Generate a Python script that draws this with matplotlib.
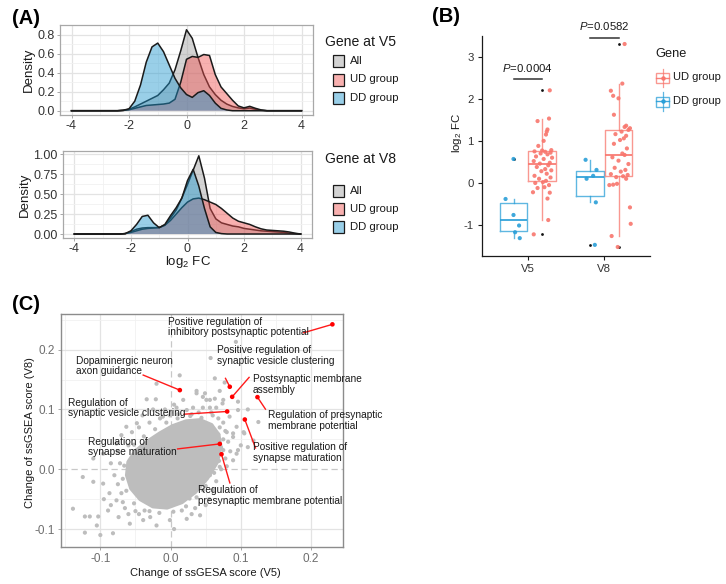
import numpy as np
import matplotlib
matplotlib.use('Agg')
import matplotlib.pyplot as plt
from matplotlib.patches import Rectangle, Polygon
from matplotlib.lines import Line2D

plt.rcParams['font.family'] = ['Liberation Sans', 'DejaVu Sans']
plt.rcParams['mathtext.fontset'] = 'custom'
plt.rcParams['mathtext.rm'] = 'Liberation Sans'
plt.rcParams['mathtext.it'] = 'Liberation Sans:italic'

# ---------------- data: panel A (densities) ----------------
grid_x = [-4.0, -2.6, -2.4, -2.2, -2.0, -1.8, -1.6, -1.4, -1.2, -1.0, -0.8, -0.6, -0.4, -0.2,
          0.0, 0.2, 0.4, 0.6, 0.8, 1.0, 1.2, 1.4, 1.6, 1.8, 2.0, 2.2, 2.4, 2.6, 2.8, 3.0,
          3.2, 3.4, 3.6, 3.8, 4.0]
v5_all = [0, 0, 0, 0.003, 0.015, 0.04, 0.07, 0.10, 0.13, 0.16, 0.22, 0.29, 0.43, 0.63,
          0.85, 0.76, 0.56, 0.38, 0.25, 0.17, 0.11, 0.07, 0.045, 0.03, 0.02, 0.028, 0.015, 0.005, 0,
          0, 0, 0, 0, 0, 0]
v5_ud = [0, 0, 0, 0.003, 0.01, 0.025, 0.04, 0.055, 0.06, 0.065, 0.07, 0.08, 0.12, 0.30,
         0.54, 0.57, 0.56, 0.59, 0.58, 0.38, 0.25, 0.18, 0.11, 0.05, 0.03, 0.046, 0.025, 0.008, 0,
         0, 0, 0, 0, 0, 0]
v5_dd = [0, 0, 0, 0.005, 0.02, 0.10, 0.27, 0.51, 0.67, 0.71, 0.62, 0.48, 0.34, 0.24,
         0.17, 0.14, 0.19, 0.21, 0.16, 0.08, 0.025, 0.008, 0, 0, 0, 0, 0, 0, 0,
         0, 0, 0, 0, 0, 0]
v8_all = [0, 0, 0, 0.005, 0.03, 0.06, 0.075, 0.08, 0.08, 0.08, 0.11, 0.20, 0.30, 0.45,
          0.62, 0.80, 0.98, 0.70, 0.32, 0.19, 0.14, 0.12, 0.10, 0.09, 0.07, 0.06, 0.05, 0.04, 0.035,
          0.03, 0.025, 0.02, 0.01, 0.005, 0]
v8_ud = [0, 0, 0, 0.005, 0.02, 0.04, 0.06, 0.07, 0.075, 0.08, 0.11, 0.17, 0.25, 0.33,
         0.40, 0.44, 0.45, 0.43, 0.40, 0.37, 0.32, 0.26, 0.20, 0.16, 0.14, 0.12, 0.09, 0.065, 0.05,
         0.045, 0.04, 0.035, 0.025, 0.01, 0]
v8_dd = [0, 0, 0, 0.005, 0.04, 0.12, 0.22, 0.235, 0.14, 0.08, 0.12, 0.23, 0.33, 0.45,
         0.67, 0.81, 0.60, 0.32, 0.09, 0.02, 0.005, 0, 0, 0, 0, 0, 0, 0, 0,
         0, 0, 0, 0, 0, 0]
dens_groups = ['All', 'UD group', 'DD group']

# ---------------- data: panel B (log2 FC of genes) ----------------
b_categories = ['V5', 'V8']
b_groups = ['UD group', 'DD group']
dd_v5 = [-0.38, 0.57, -0.76, -1.01, -1.17, -1.31]
dd_v5_jit = [-0.104, 0.0, 0.0, 0.073, 0.021, 0.082]
dd_v8 = [0.55, 0.31, 0.17, 0.10, -0.46, -1.47]
dd_v8_jit = [-0.056, 0.087, 0.043, -0.043, 0.078, 0.065]
ud_v5 = [-1.22, -0.88, -0.37, -0.23, -0.22, -0.12, -0.10, -0.05, 0.00, 0.02,
         0.05, 0.10, 0.13, 0.17, 0.22, 0.28, 0.30, 0.33, 0.38, 0.42,
         0.46, 0.48, 0.52, 0.57, 0.60, 0.63, 0.68, 0.70, 0.72, 0.74,
         0.75, 0.77, 0.78, 0.88, 1.00, 1.15, 1.22, 1.27, 1.47, 1.53, 2.20]
ud_v5_jit = [-0.11, 0.08, 0.07, 0.10, -0.12, -0.06, 0.03, 0.09, -0.09, 0.01,
             0.05, -0.04, 0.11, -0.10, 0.06, -0.01, 0.12, 0.04, -0.07, 0.08,
             -0.03, 0.10, -0.11, 0.02, 0.13, -0.08, 0.07, -0.02, 0.11, 0.04,
             -0.10, 0.00, 0.12, -0.05, 0.02, 0.05, 0.06, 0.07, -0.06, 0.09, 0.10]
ud_v8 = [-1.52, -1.26, -0.97, -0.58, -0.05, -0.04, -0.02, 0.10, 0.14,
         0.16, 0.19, 0.21, 0.27, 0.31, 0.36, 0.45, 0.53, 0.61,
         0.665, 0.70, 0.82, 0.93, 1.02, 1.06, 1.12, 1.16, 1.22,
         1.26, 1.30, 1.33, 1.36, 1.62, 2.01, 2.07, 2.19, 2.36, 3.30]
ud_v8_jit = [-0.01, -0.09, 0.16, 0.15, -0.12, -0.07, -0.02, 0.10, -0.03,
             0.06, 0.12, -0.10, 0.03, 0.09, -0.05, 0.13, 0.00, -0.08,
             0.08, 0.05, 0.11, -0.06, 0.02, 0.07, 0.10, -0.04, 0.04,
             0.13, 0.15, 0.08, 0.10, -0.06, 0.00, -0.07, -0.10, 0.05, 0.08]
p_labels = ['0.0004', '0.0582']
p_line_y = [2.46, 3.45]

# ---------------- data: panel C (ssGSEA score changes) ----------------
core_x = [-0.062, -0.060, -0.050, -0.033, -0.015, 0.003, 0.022, 0.042, 0.058, 0.068,
          0.071, 0.066, 0.052, 0.035, 0.016, -0.005, -0.025, -0.043, -0.056]
core_y = [-0.010, 0.012, 0.030, 0.046, 0.060, 0.072, 0.080, 0.082, 0.074, 0.058,
          0.038, 0.012, -0.015, -0.038, -0.055, -0.064, -0.062, -0.050, -0.032]
pts_x = [0.093, 0.057, 0.013, -0.020, 0.037, 0.063, 0.077, 0.070, 0.049, -0.034,
         -0.021, 0.018, 0.023, 0.056, 0.075, 0.096, 0.110, 0.0085, 0.032, 0.046,
         0.056, 0.065, -0.011, -0.001, 0.074, 0.125, 0.096, 0.084, 0.094, 0.075,
         0.089, 0.082, 0.096, 0.075, 0.089, 0.070, 0.056, 0.046, 0.042, 0.027,
         0.063, 0.051, 0.046, 0.037, 0.110, 0.094, 0.089, -0.063, -0.048, -0.070,
         -0.077, -0.096, -0.110, -0.125, -0.139, -0.122, -0.115, -0.103, -0.105, -0.122,
         -0.100, -0.082, -0.089, -0.077, -0.074, -0.058, -0.029, -0.020, -0.001, 0.023,
         -0.096, -0.087, -0.110, 0.016, 0.030, -0.039, -0.065, -0.050, -0.066, -0.068,
         -0.063, -0.052, -0.037, -0.016, 0.004, 0.022, 0.037, 0.050, 0.062, 0.069,
         0.072, 0.068, 0.058, 0.044, 0.028, 0.010, -0.006, -0.022, -0.038, -0.052,
         0.078, 0.104, 0.118, -0.085, 0.005, 0.060,
         -0.055, -0.045, -0.030, -0.015, 0.000, 0.010, -0.040, -0.025, 0.005, -0.008,
         0.030, 0.040, 0.070, 0.075, 0.080, 0.085, 0.078, 0.072, 0.065, 0.060,
         0.055, 0.050, 0.035, 0.080, 0.100, 0.105, 0.068, 0.058, -0.070, -0.075,
         -0.080, -0.072, -0.068, -0.060, -0.045, -0.030, -0.085, -0.095, -0.060, -0.075]
pts_y = [0.213, 0.186, 0.157, 0.143, 0.131, 0.152, 0.145, 0.131, 0.127, 0.117,
         0.117, 0.116, 0.099, 0.116, 0.116, 0.113, 0.100, 0.103, 0.103, 0.103,
         0.103, 0.103, 0.088, 0.090, 0.110, 0.079, 0.099, 0.088, 0.071, 0.078,
         0.054, 0.046, 0.032, 0.032, 0.015, 0.004, -0.010, -0.035, -0.077, -0.049,
         0.118, 0.116, 0.121, 0.127, 0.037, 0.026, 0.060, 0.071, 0.077, 0.057,
         0.043, 0.026, 0.018, -0.013, -0.066, -0.079, -0.079, -0.079, -0.094, -0.106,
         -0.110, -0.107, -0.069, -0.052, -0.080, -0.091, -0.080, -0.094, -0.085, -0.083,
         -0.024, -0.040, -0.021, -0.069, -0.075, -0.085, -0.065, -0.070, 0.006, -0.016,
         -0.036, -0.057, -0.069, -0.073, -0.071, -0.062, -0.047, -0.028, -0.006, 0.014,
         0.036, 0.058, 0.073, 0.086, 0.089, 0.085, 0.078, 0.067, 0.055, 0.041,
         0.064, 0.062, 0.048, 0.010, -0.100, 0.090,
         0.062, 0.070, 0.078, 0.085, 0.095, 0.092, 0.090, 0.100, 0.108, 0.100,
         0.092, 0.095, 0.070, 0.050, 0.062, 0.030, 0.018, 0.000, -0.020, -0.035,
         -0.050, -0.060, -0.065, 0.005, 0.040, 0.060, 0.085, 0.095, -0.040, -0.025,
         -0.010, 0.010, -0.055, -0.075, -0.075, -0.070, -0.060, -0.050, 0.040, 0.030]
ann_labels = ['Positive regulation of\ninhibitory postsynaptic potential',
              'Positive regulation of\nsynaptic vesicle clustering',
              'Postsynaptic membrane\nassembly',
              'Regulation of presynaptic\nmembrane potential',
              'Dopaminergic neuron\naxon guidance',
              'Regulation of\nsynaptic vesicle clustering',
              'Regulation of\nsynapse maturation',
              'Positive regulation of\nsynapse maturation',
              'Regulation of\npresynaptic membrane potential']
ann_x = [0.2304, 0.0843, 0.0877, 0.1237, 0.0132, 0.0806, 0.0701, 0.1057, 0.0725]
ann_y = [0.2423, 0.1379, 0.1211, 0.1206, 0.1323, 0.0966, 0.0424, 0.0832, 0.0251]
ann_tx = [-0.0034, 0.0654, 0.1175, 0.1384, -0.1347, -0.1457, -0.1180, 0.1175, 0.0393]
ann_ty = [0.2375, 0.1904, 0.1415, 0.0812, 0.1722, 0.1025, 0.0377, 0.0281, -0.0436]
ann_lx = [0.1896, 0.0782, 0.1118, 0.1351, -0.0390, 0.0193, 0.0100, 0.1209, 0.0844]
ann_ly = [0.2283, 0.1520, 0.1536, 0.1005, 0.1575, 0.0921, 0.0340, 0.0357, -0.0229]

# ---------------- layout helpers ----------------
W, H = 726, 584
fig = plt.figure(figsize=(W / 100, H / 100), dpi=100)


def add_ax(l, t, r, b):
    return fig.add_axes([l / W, 1 - b / H, (r - l) / W, (b - t) / H])


def ftext(x, y, s, **kw):
    return fig.text(x / W, 1 - y / H, s, **kw)


def frect(x0, y0, w, h, **kw):
    r = Rectangle((x0 / W, 1 - (y0 + h) / H), w / W, h / H, transform=fig.transFigure, **kw)
    fig.patches.append(r)
    return r


def fline(xs, ys, **kw):
    l = Line2D([x / W for x in xs], [1 - y / H for y in ys], transform=fig.transFigure, **kw)
    fig.lines.append(l)
    return l


COL_ALL = '#9E9E9E'
COL_UD = '#F0504F'
COL_DD = '#1E96CE'
ALPHAS = [0.45, 0.45, 0.45]
GRID_MAJ = '#E3E3E3'
GRID_MIN = '#F1F1F1'
BORDER = '#A8A8A8'

# ---------------- Panel A ----------------
def density_panel(ax, curves, ylim, yticks, yticklabels):
    ax.set_xlim(-4.4, 4.4)
    ax.set_ylim(*ylim)
    for x in [-3, -1, 1, 3]:
        ax.axvline(x, color=GRID_MIN, lw=0.6, zorder=0)
    for x in [-4, -2, 0, 2, 4]:
        ax.axvline(x, color=GRID_MAJ, lw=0.9, zorder=0)
    for i, y in enumerate(yticks):
        ax.axhline(y, color=GRID_MAJ, lw=0.9, zorder=0)
        if i + 1 < len(yticks):
            ax.axhline((y + yticks[i + 1]) / 2, color=GRID_MIN, lw=0.6, zorder=0)
    ax.axhline(yticks[-1] + (yticks[1] - yticks[0]) / 2, color=GRID_MIN, lw=0.6, zorder=0)
    for k, (vals, col) in enumerate(zip(curves, [COL_ALL, COL_UD, COL_DD])):
        ax.fill_between(grid_x, vals, 0, facecolor=col, alpha=ALPHAS[k], edgecolor='none', zorder=2 + 2 * k)
        ax.plot(grid_x, vals, color='#1A1A1A', lw=1.1, zorder=3 + 2 * k, solid_joinstyle='round')
    ax.set_xticks([-4, -2, 0, 2, 4])
    ax.set_xticklabels(['-4', '-2', '0', '2', '4'])
    ax.set_yticks(yticks)
    ax.set_yticklabels(yticklabels)
    ax.tick_params(length=2.2, width=0.7, color=BORDER, labelsize=9, labelcolor='#333333', pad=1.5)
    for s in ax.spines.values():
        s.set_color(BORDER)
        s.set_linewidth(0.9)
    ax.set_ylabel('Density', fontsize=9.5, color='#1A1A1A', labelpad=2)


axA1 = add_ax(60, 25, 313, 115)
density_panel(axA1, [v5_all, v5_ud, v5_dd], (-0.045, 0.9), [0.0, 0.2, 0.4, 0.6, 0.8],
              ['0.0', '0.2', '0.4', '0.6', '0.8'])
axA2 = add_ax(63, 151, 312, 238)
density_panel(axA2, [v8_all, v8_ud, v8_dd], (-0.05, 1.04), [0.0, 0.25, 0.5, 0.75, 1.0],
              ['0.00', '0.25', '0.50', '0.75', '1.00'])
ftext(188, 262, r'log$_2$ FC', fontsize=9.5, ha='center', va='center', color='#1A1A1A')


def density_legend(title, ty, rows):
    ftext(325, ty, title, fontsize=10.1, ha='left', va='center', color='#1A1A1A')
    for k, (lab, yy) in enumerate(zip(dens_groups, rows)):
        col = [COL_ALL, COL_UD, COL_DD][k]
        frect(333, yy - 6, 11, 12, facecolor='white', edgecolor='none')
        frect(333, yy - 6, 11, 12, facecolor=col, alpha=ALPHAS[k], edgecolor='none')
        frect(333, yy - 6, 11, 12, facecolor='none', edgecolor='#1A1A1A', lw=0.9)
        ftext(350, yy, lab, fontsize=8.2, ha='left', va='center', color='#1A1A1A')


density_legend('Gene at V5', 42, [61, 79.5, 98])
density_legend('Gene at V8', 159, [191, 209, 227])
ftext(12, 18, '(A)', fontsize=14.5, fontweight='bold', ha='left', va='center')

# ---------------- Panel B ----------------
axB = add_ax(482, 36, 650, 256)
axB.set_xlim(0.4, 2.6)
axB.set_ylim(-1.734, 3.49)
B_UD = '#F8766D'
B_DD = '#2A9FD8'
offs = 0.1875
bdata = [dd_v5, ud_v5, dd_v8, ud_v8]
bpos = [1 - offs, 1 + offs, 2 - offs, 2 + offs]
bcols = [B_DD, B_UD, B_DD, B_UD]
bp = axB.boxplot(bdata, positions=bpos, widths=0.36, showcaps=False, manage_ticks=False,
                 flierprops=dict(marker='o', markersize=2.0, markerfacecolor='#111111',
                                 markeredgecolor='none'))
for i, c in enumerate(bcols):
    for art in [bp['boxes'][i], bp['medians'][i], bp['whiskers'][2 * i], bp['whiskers'][2 * i + 1]]:
        art.set_color(c)
        art.set_alpha(0.75)
        art.set_linewidth(1.0)
    bp['medians'][i].set_alpha(0.95)
    bp['medians'][i].set_linewidth(1.3)
jit_sets = [(dd_v5, dd_v5_jit), (ud_v5, ud_v5_jit), (dd_v8, dd_v8_jit), (ud_v8, ud_v8_jit)]
for (vals, jit), p, c in zip(jit_sets, bpos, bcols):
    axB.scatter([p + j for j in jit], vals, s=9, color=c, edgecolors='none', zorder=4, alpha=0.9)
for k, (lab, ly) in enumerate(zip(p_labels, p_line_y)):
    axB.plot([k + 1 - offs, k + 1 + offs], [ly, ly], color='#333333', lw=1.1, clip_on=False)
    axB.text(k + 1, ly + 0.13, r'$P$=' + lab, ha='center', va='bottom', fontsize=8.2,
             color='#1A1A1A', clip_on=False)
axB.set_xticks([1, 2])
axB.set_xticklabels(b_categories)
axB.set_yticks([-1, 0, 1, 2, 3])
axB.set_yticklabels(['-1', '0', '1', '2', '3'])
for s in ['top', 'right']:
    axB.spines[s].set_visible(False)
for s in ['left', 'bottom']:
    axB.spines[s].set_color('#1A1A1A')
    axB.spines[s].set_linewidth(0.9)
axB.tick_params(length=3, width=0.8, color='#1A1A1A', labelsize=8.2, labelcolor='#333333', pad=3)
ftext(457, 133, r'log$_2$ FC', fontsize=8.2, ha='center', va='center', rotation=90, color='#1A1A1A')
ftext(432, 17, '(B)', fontsize=14.5, fontweight='bold', ha='left', va='center')
ftext(655, 54, 'Gene', fontsize=9.2, ha='left', va='center', color='#1A1A1A')
for lab, c, yy in zip(b_groups, [B_UD, B_DD], [77.5, 101.5]):
    fline([662.5, 662.5], [yy - 9, yy + 9], color=c, lw=0.9, alpha=0.75)
    frect(656, yy - 5, 13, 10, facecolor='white', edgecolor=c, lw=1.0, alpha=0.75)
    fline([656, 669], [yy, yy], color=c, lw=1.0, alpha=0.9)
    fig.lines.append(Line2D([662.5 / W], [1 - yy / H], transform=fig.transFigure, marker='o',
                            markersize=3.2, color=c, markeredgecolor='none'))
    ftext(673, yy, lab, fontsize=8.0, ha='left', va='center', color='#1A1A1A')

# ---------------- Panel C ----------------
axC = add_ax(61, 314, 343, 547)
axC.set_xlim(-0.156, 0.2455)
axC.set_ylim(-0.130, 0.2596)
for x in [-0.15, -0.05, 0.05, 0.15]:
    axC.axvline(x, color=GRID_MIN, lw=0.6, zorder=0)
for x in [-0.1, 0.1, 0.2]:
    axC.axvline(x, color=GRID_MAJ, lw=0.9, zorder=0)
for y in [-0.05, 0.05, 0.15, 0.25]:
    axC.axhline(y, color=GRID_MIN, lw=0.6, zorder=0)
for y in [-0.1, 0.1, 0.2]:
    axC.axhline(y, color=GRID_MAJ, lw=0.9, zorder=0)
axC.axvline(0, color='#C8C8C8', lw=0.9, ls=(0, (5, 3)), zorder=1)
axC.axhline(0, color='#C8C8C8', lw=0.9, ls=(0, (5, 3)), zorder=1)
PT = '#BDBDBD'
axC.add_patch(Polygon(list(zip(core_x, core_y)), closed=True, facecolor=PT, edgecolor=PT,
                      lw=3.0, joinstyle='round', zorder=2))
axC.scatter(pts_x, pts_y, s=9, color=PT, edgecolors='none', zorder=2)
for lab, px, py, tx, ty, lx, ly in zip(ann_labels, ann_x, ann_y, ann_tx, ann_ty, ann_lx, ann_ly):
    axC.plot([px, lx], [py, ly], color='#FF1A1A', lw=1.0, zorder=4)
    axC.text(tx, ty, lab, ha='left', va='center', fontsize=7.3, color='#1A1A1A',
             linespacing=1.05, zorder=5)
axC.scatter(ann_x, ann_y, s=11, color='#FF0000', edgecolors='none', zorder=5)
axC.set_xticks([-0.1, 0.0, 0.1, 0.2])
axC.set_xticklabels(['-0.1', '0.0', '0.1', '0.2'])
axC.set_yticks([-0.1, 0.0, 0.1, 0.2])
axC.set_yticklabels(['-0.1', '0.0', '0.1', '0.2'])
axC.tick_params(length=2.2, width=0.7, color=BORDER, labelsize=8.5, labelcolor='#6E6E6E', pad=2)
for s in axC.spines.values():
    s.set_color('#8C8C8C')
    s.set_linewidth(1.0)
ftext(205, 573, 'Change of ssGESA score (V5)', fontsize=8, ha='center', va='center', color='#1A1A1A')
ftext(30, 433, 'Change of ssGSEA score (V8)', fontsize=8, ha='center', va='center',
      rotation=90, color='#1A1A1A')
ftext(12, 305, '(C)', fontsize=14.5, fontweight='bold', ha='left', va='center')

fig.savefig('out.png', dpi=100)
